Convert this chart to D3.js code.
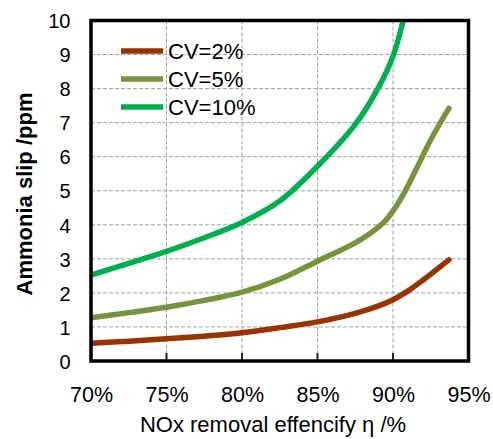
<!DOCTYPE html>
<html><head><meta charset="utf-8">
<script src="https://cdn.jsdelivr.net/npm/d3@7"></script>
<style>body{margin:0;background:#fff}svg{display:block}</style>
</head><body>
<svg id="c" width="493" height="439"></svg>
<script>
const seriesNames = ["CV=2%", "CV=5%", "CV=10%"];
const seriesColors = ["#993300", "#77933C", "#00B050"];
const xCV2 = [70, 72.5, 75, 77.5, 80, 82.5, 85, 87.5, 89, 90, 91, 92, 93.7];
const yCV2 = [0.52, 0.58, 0.65, 0.73, 0.83, 0.98, 1.15, 1.4, 1.61, 1.8, 2.06, 2.38, 2.97];
const xCV5 = [70, 72.5, 75, 77.5, 80, 82.5, 85, 87.5, 88.5, 89.5, 90.5, 91.5, 92.5, 93.7];
const yCV5 = [1.27, 1.42, 1.58, 1.78, 2.02, 2.4, 2.93, 3.47, 3.75, 4.12, 4.75, 5.6, 6.5, 7.42];
const xCV10 = [70, 72.5, 75, 77.5, 80, 82.5, 85, 87.5, 89, 90, 90.7];
const yCV10 = [2.52, 2.87, 3.22, 3.62, 4.07, 4.7, 5.72, 6.95, 8.0, 8.95, 10.05];
const xTicks = [70, 75, 80, 85, 90, 95];
const yTicks = [0, 1, 2, 3, 4, 5, 6, 7, 8, 9, 10];
const xTitle = "NOx removal effencify η /%";
const yTitle = "Ammonia slip /ppm";

const series = [
  {name: seriesNames[0], color: seriesColors[0], pts: xCV2.map((x, i) => [x, yCV2[i]])},
  {name: seriesNames[1], color: seriesColors[1], pts: xCV5.map((x, i) => [x, yCV5[i]])},
  {name: seriesNames[2], color: seriesColors[2], pts: xCV10.map((x, i) => [x, yCV10[i]])}
];

const svg = d3.select("#c");
const L = 91, R = 468.5, T = 20.5, B = 361;
const x = d3.scaleLinear().domain([70, 95]).range([L, R]);
const y = d3.scaleLinear().domain([0, 10]).range([B, T]);
const font = "'Liberation Sans', Arial, sans-serif";

svg.append("defs").append("clipPath").attr("id", "clip")
  .append("rect").attr("x", L).attr("y", T).attr("width", R - L).attr("height", B - T);

// grid
const g = svg.append("g");
g.selectAll(".hg").data(yTicks.slice(1, -1)).enter().append("line")
  .attr("x1", L).attr("x2", R).attr("y1", d => y(d)).attr("y2", d => y(d))
  .attr("stroke", "#a0a0a0").attr("stroke-width", 1).attr("stroke-dasharray", "4,2");
g.selectAll(".vg").data(xTicks.slice(1, -1)).enter().append("line")
  .attr("y1", T).attr("y2", B).attr("x1", d => x(d)).attr("x2", d => x(d))
  .attr("stroke", "#a0a0a0").attr("stroke-width", 1).attr("stroke-dasharray", "4,2");

// inner ticks at bottom
g.selectAll(".tk").data(xTicks.slice(1, -1)).enter().append("line")
  .attr("y1", B - 8).attr("y2", B).attr("x1", d => x(d)).attr("x2", d => x(d))
  .attr("stroke", "#222").attr("stroke-width", 2);

// lines
const line = d3.line().x(d => x(d[0])).y(d => y(d[1])).curve(d3.curveCatmullRom.alpha(0.5));
svg.append("g").attr("clip-path", "url(#clip)").selectAll("path").data(series).enter().append("path")
  .attr("d", d => line(d.pts)).attr("fill", "none").attr("stroke", d => d.color)
  .attr("stroke-width", 5.5).attr("stroke-linecap", "round").attr("stroke-linejoin", "round");

// frame
svg.append("rect").attr("x", L).attr("y", T).attr("width", R - L).attr("height", B - T)
  .attr("fill", "none").attr("stroke", "#000").attr("stroke-width", 3.5);

// axes labels via d3 axes (no domain/ticks drawn)
const xAxis = svg.append("g").attr("transform", `translate(0,${B})`)
  .call(d3.axisBottom(x).tickValues(xTicks).tickFormat(d => d + "%").tickSize(0).tickPadding(0));
xAxis.select(".domain").remove();
xAxis.selectAll("text").attr("font-family", font).attr("font-size", 21.5).attr("fill", "#000")
  .attr("dy", null).attr("y", 40.5);

const yAxis = svg.append("g").attr("transform", `translate(${L},0)`)
  .call(d3.axisLeft(y).tickValues(yTicks).tickSize(0).tickPadding(0));
yAxis.select(".domain").remove();
yAxis.selectAll("text").attr("font-family", font).attr("font-size", 20).attr("fill", "#000")
  .attr("x", -20.5).attr("dy", "0.36em");

// titles
svg.append("text").attr("x", 273).attr("y", 432).attr("text-anchor", "middle")
  .attr("font-family", font).attr("font-size", 22).text(xTitle);
svg.append("text").attr("transform", "translate(31.5,194) rotate(-90)").attr("text-anchor", "middle")
  .attr("font-family", font).attr("font-size", 22).attr("font-weight", "bold").text(yTitle);

// legend
const lg = svg.append("g");
series.forEach((s, i) => {
  const yy = 51 + i * 28;
  lg.append("line").attr("x1", 121).attr("x2", 163).attr("y1", yy).attr("y2", yy)
    .attr("stroke", s.color).attr("stroke-width", 5.5);
  lg.append("text").attr("x", 168).attr("y", yy).attr("dy", "0.36em")
    .attr("font-family", font).attr("font-size", 22).text(s.name);
});
</script>
</body></html>
